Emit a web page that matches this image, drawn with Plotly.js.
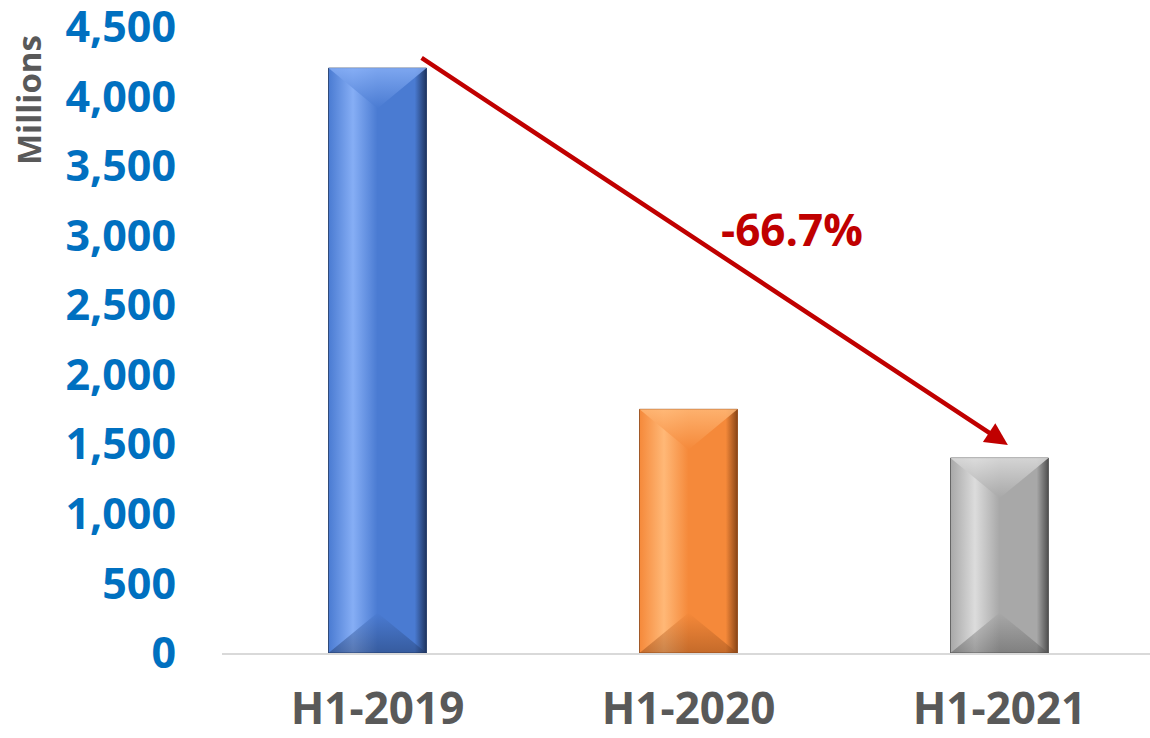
<!DOCTYPE html>
<html><head><meta charset="utf-8">
<script src="https://cdn.plot.ly/plotly-3.0.1.min.js"></script>
<style>html,body{margin:0;padding:0;background:#fff}#chart{width:1150px;height:738px}</style>
</head><body><div id="chart"></div>
<script>
var categories = ["H1-2019", "H1-2020", "H1-2021"];
var values = [4205, 1752, 1402];
var baseColors = ["#4a7bd2", "#f5893a", "#a8a8a8"];
var lightColors = ["#86aef5", "#ffb877", "#dcdcdc"];
var darkColors = ["#1f3560", "#8a4516", "#4f4f4f"];
var yTicks = [0, 500, 1000, 1500, 2000, 2500, 3000, 3500, 4000, 4500];
var changeLabel = "-66.7%";
var unitLabel = "Millions";

var barWidth = 0.315;
var bevel = 290;
var xs = categories.map(function(_, i){ return i; });

var traces = [{
  type: "bar", x: xs, y: values, width: barWidth,
  marker: {color: baseColors, line: {color: darkColors, width: 0}},
  hoverinfo: "skip", showlegend: false
}];

xs.forEach(function(x, i){
  var l = x - barWidth/2, r = x + barWidth/2, v = values[i];
  traces.push({
    type: "scatter", mode: "lines", x: [l, r, r, l, l], y: [0, 0, v, v, 0],
    fill: "toself", line: {width: 0.8, color: darkColors[i]},
    fillgradient: {type: "horizontal", colorscale: [[0, baseColors[i]], [0.25, lightColors[i]], [0.5, baseColors[i]], [0.88, baseColors[i]], [1, darkColors[i]]]},
    hoverinfo: "skip", showlegend: false
  });
  traces.push({
    type: "scatter", mode: "lines", x: [l, r, x, l], y: [v, v, v - bevel, v],
    fill: "toself", line: {width: 0},
    fillgradient: {type: "vertical", colorscale: [[0, baseColors[i]], [1, lightColors[i]]]},
    opacity: 0.85, hoverinfo: "skip", showlegend: false
  });
  traces.push({
    type: "scatter", mode: "lines", x: [l, r, x, l], y: [0, 0, bevel, 0],
    fill: "toself", line: {width: 0},
    fillgradient: {type: "vertical", colorscale: [[0, darkColors[i]], [1, baseColors[i]]]},
    opacity: 0.45, hoverinfo: "skip", showlegend: false
  });
});

var layout = {
  width: 1150, height: 738,
  margin: {l: 222, r: 0, t: 27, b: 85},
  paper_bgcolor: "#fff", plot_bgcolor: "#fff",
  font: {family: "Open Sans, sans-serif"},
  xaxis: {
    range: [-0.5, 2.484], tickvals: xs, ticktext: categories,
    showgrid: false, zeroline: false, showline: true, linecolor: "#d9d9d9", linewidth: 2,
    ticks: "outside", ticklen: 0, ticklabelstandoff: 16,
    tickfont: {size: 44, color: "#595959", family: "Open Sans, sans-serif", weight: "bold"},
    fixedrange: true
  },
  yaxis: {
    range: [0, 4500.5], tickvals: yTicks, tickformat: ",d",
    showgrid: false, zeroline: false, showline: false,
    ticks: "", ticklabelstandoff: 45, ticklabeloverflow: "allow",
    tickfont: {size: 43, color: "#0070c0", family: "Open Sans, sans-serif", weight: "bold"},
    fixedrange: true
  },
  annotations: [{
    x: 2.027, y: 1495, xref: "x", yref: "y",
    ax: 0.137, ay: 4285, axref: "x", ayref: "y",
    showarrow: true, arrowhead: 2, arrowsize: 1, arrowwidth: 4.5, arrowcolor: "#c00000", text: ""
  }, {
    x: 1.333, y: 3045, xref: "x", yref: "y", showarrow: false,
    text: changeLabel, font: {size: 44, color: "#c00000", family: "Open Sans, sans-serif", weight: "bold"}
  }, {
    x: (28 - 222) / (1150 - 222), y: (653 - 100) / (653 - 27), xref: "paper", yref: "paper",
    xanchor: "center", yanchor: "middle",
    text: unitLabel, textangle: -90, showarrow: false,
    font: {size: 33, color: "#595959", family: "Open Sans, sans-serif", weight: "bold"}
  }]
};

Plotly.newPlot("chart", traces, layout, {displayModeBar: false, staticPlot: true});
</script></body></html>
